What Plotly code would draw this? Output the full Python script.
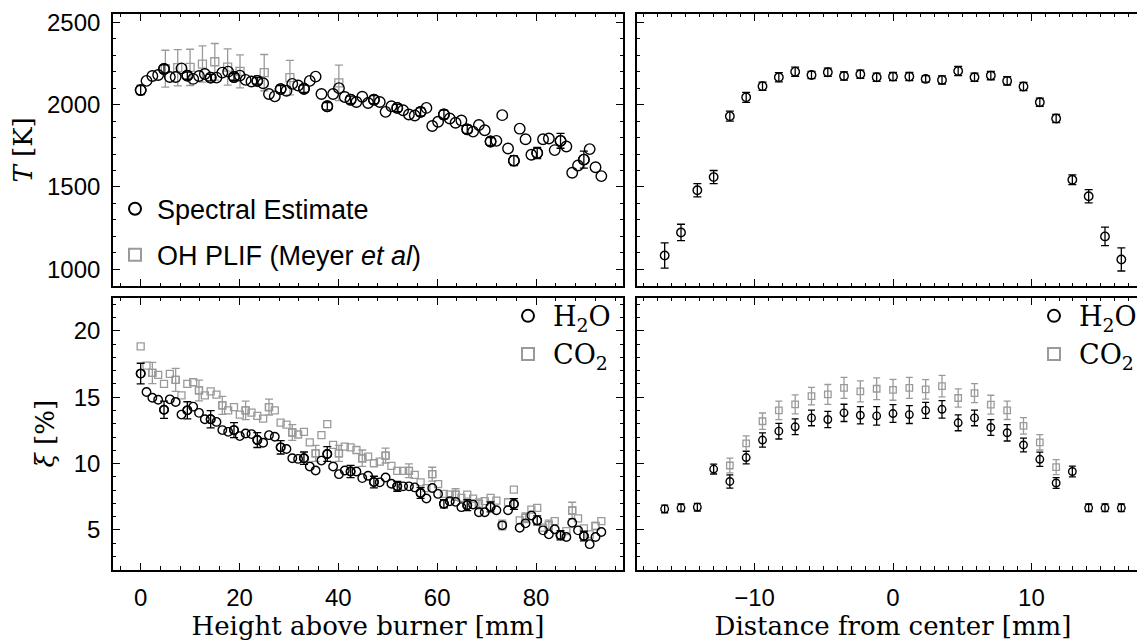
import plotly.graph_objects as go

# ---- data ----
hab_mm = [0.0, 1.18, 2.36, 3.54, 4.72, 5.9, 7.08, 8.26, 9.44, 10.62,
          11.8, 12.98, 14.16, 15.34, 16.52, 17.7, 18.88, 20.06, 21.24, 22.42,
          23.6, 24.78, 25.96, 27.14, 28.32, 29.5, 30.68, 31.86, 33.04, 34.22,
          35.4, 36.58, 37.76, 38.94, 40.12, 41.3, 42.48, 43.66, 44.84, 46.02,
          47.2, 48.38, 49.56, 50.74, 51.92, 53.1, 54.28, 55.46, 56.64, 57.82,
          59.0, 60.18, 61.36, 62.54, 63.72, 64.9, 66.08, 67.26, 68.44, 69.62,
          70.8, 71.98, 73.16, 74.34, 75.52, 76.7, 77.88, 79.06, 80.24, 81.42,
          82.6, 83.78, 84.96, 86.14, 87.32, 88.5, 89.68, 90.86, 92.04, 93.22]

temp_hab = [2088, 2144, 2174, 2180, 2216, 2168, 2168, 2220, 2176, 2156,
            2174, 2186, 2164, 2164, 2194, 2200, 2168, 2176, 2150, 2140,
            2144, 2130, 2064, 2050, 2094, 2084, 2126, 2116, 2096, 2144,
            2170, 2064, 1990, 2064, 2100, 2046, 2030, 2016, 2048, 2010,
            2030, 2016, 1956, 1990, 1980, 1966, 1940, 1934, 1956, 1980,
            1870, 1896, 1940, 1916, 1890, 1904, 1850, 1836, 1876, 1844,
            1776, 1780, 1936, 1734, 1660, 1854, 1790, 1696, 1706, 1790,
            1794, 1724, 1780, 1746, 1586, 1630, 1666, 1730, 1620, 1566]
# error bars only on every 4th spectral point (index 0, 4, 8, ...)
temp_hab_err = [28, 25, 22, 20, 20, 20, 22, 22, 22, 22,
                24, 22, 24, 26, 24, 24, 30, 34, 45, 52]

plif_mm = [5.0, 7.5, 10.0, 12.5, 15.0, 17.6, 20.1, 25.0, 30.2, 40.1]
plif_temp = [2218, 2224, 2226, 2246, 2260, 2228, 2202, 2194, 2164, 2132]
plif_err = [112, 110, 110, 110, 111, 110, 100, 110, 105, 108]

h2o_hab = [16.78, 15.39, 14.96, 14.81, 14.06, 14.84, 14.64, 13.69, 14.01, 14.29,
           13.82, 13.34, 13.34, 13.14, 12.52, 12.39, 12.52, 12.07, 12.27, 12.22,
           11.77, 11.57, 12.14, 12.02, 11.22, 11.10, 10.40, 10.35, 10.40, 9.78,
           9.48, 10.22, 10.72, 9.78, 9.20, 9.48, 9.40, 9.40, 8.90, 9.08,
           8.60, 8.58, 8.95, 8.48, 8.28, 8.28, 8.28, 8.20, 7.78, 7.36,
           8.15, 7.71, 6.96, 7.16, 7.11, 6.71, 6.86, 6.91, 6.33, 6.33,
           6.73, 6.48, 5.34, 6.48, 6.95, 5.16, 5.49, 6.08, 5.71, 4.96,
           4.66, 5.04, 4.59, 4.46, 5.54, 4.96, 4.54, 3.92, 4.46, 4.84]
h2o_hab_err = [0.78, 0.65, 0.65, 0.65, 0.56, 0.56, 0.5, 0.47, 0.56, 0.46,
               0.44, 0.37, 0.4, 0.31, 0.41, 0.37, 0.41, 0.34, 0.35, 0.37]

co2_hab = [18.83, 17.38, 16.83, 16.68, 16.01, 16.76, 16.31, 15.14, 16.01, 16.13,
           15.51, 15.14, 15.44, 15.19, 14.39, 14.01, 14.26, 13.69, 14.01, 13.84,
           13.59, 13.39, 14.26, 14.01, 13.09, 12.94, 12.34, 12.19, 12.39, 11.60,
           10.77, 12.14, 12.97, 11.40, 10.77, 11.27, 11.22, 11.02, 10.40, 10.52,
           10.02, 10.15, 10.60, 9.83, 9.45, 9.45, 9.45, 9.15, 8.58, 8.15,
           9.20, 8.45, 7.71, 7.66, 7.66, 7.41, 7.66, 7.36, 6.96, 7.16,
           7.41, 7.21, 5.36, 7.08, 8.03, 5.71, 5.91, 6.53, 6.66, 5.16,
           5.36, 5.66, 4.59, 4.91, 6.46, 5.86, 5.11, 4.66, 5.29, 5.66]
# every 4th CO2 point starting at index 2
co2_hab_err = [0.8, 0.87, 0.78, 0.68, 0.7, 0.6, 0.6, 0.6, 0.6, 0.62,
               0.56, 0.52, 0.52, 0.44, 0.37, 0.37, 0.37, 0.37, 0.62]

r_mm = [-16.5, -15.32, -14.14, -12.96, -11.79, -10.61, -9.43, -8.25, -7.07, -5.89,
        -4.71, -3.54, -2.36, -1.18, 0.0, 1.18, 2.36, 3.54, 4.71, 5.89,
        7.07, 8.25, 9.43, 10.61, 11.79, 12.96, 14.14, 15.32, 16.5]
temp_r = [1084, 1224, 1480, 1560, 1930, 2044, 2112, 2166, 2200, 2180,
          2196, 2174, 2184, 2166, 2170, 2170, 2156, 2150, 2204, 2166,
          2176, 2144, 2110, 2014, 1916, 1544, 1444, 1200, 1060]
temp_r_err = [77, 50, 40, 40, 30, 30, 25, 28, 28, 22,
              25, 25, 25, 25, 25, 25, 20, 25, 28, 25,
              25, 25, 25, 25, 25, 30, 40, 56, 70]

h2o_r = [6.58, 6.66, 6.71, 9.58, 8.65, 10.45, 11.77, 12.44, 12.77, 13.44,
         13.32, 13.82, 13.64, 13.59, 13.77, 13.69, 14.01, 14.09, 13.07, 13.44,
         12.72, 12.32, 11.40, 10.32, 8.53, 9.40, 6.66, 6.66, 6.66]
h2o_r_err = [0.29, 0.29, 0.29, 0.37, 0.5, 0.47, 0.54, 0.59, 0.59, 0.59,
             0.62, 0.65, 0.65, 0.7, 0.67, 0.67, 0.6, 0.66, 0.6, 0.59,
             0.59, 0.62, 0.52, 0.54, 0.4, 0.4, 0.29, 0.29, 0.29]
# CO2 only measured for the inner 21 radial positions (r_mm[4:25])
co2_r = [9.85, 11.52, 13.19, 14.01, 14.46, 15.09, 15.21, 15.71, 15.44, 15.64,
         15.56, 15.71, 15.59, 15.84, 14.94, 15.31, 14.44, 14.01, 12.84, 11.60, 9.73]
co2_r_err = [0.56, 0.57, 0.62, 0.7, 0.72, 0.66, 0.75, 0.79, 0.79, 0.82,
             0.79, 0.79, 0.74, 0.81, 0.69, 0.71, 0.71, 0.69, 0.62, 0.58, 0.56]

BLACK = "black"
GRAY = "#9a9a9a"
SANS = "Liberation Sans, Arial, sans-serif"
SERIF = "DejaVu Serif, serif"
W, H = 1145, 641
PAD = 8   # page body margin in front of the plot div


def circles(x, y, size, **kw):
    return go.Scatter(x=x, y=y, mode="markers",
                      marker=dict(symbol="circle-open", size=size, color=BLACK,
                                  line=dict(width=1.4, color=BLACK)), **kw)


def squares(x, y, size, **kw):
    return go.Scatter(x=x, y=y, mode="markers",
                      marker=dict(symbol="square-open", size=size, color=GRAY,
                                  line=dict(width=1.3, color=GRAY)), **kw)


def ebar(vals, color, width=4):
    return dict(type="data", array=vals, visible=True, color=color,
                thickness=1.3, width=width)


def px_x(a, b):   # page pixels -> paper fraction
    return [(a - PAD) / W, (b - PAD) / W]


def px_y(top, bottom):
    return [1 - (bottom - PAD) / H, 1 - (top - PAD) / H]


fig = go.Figure()

# top left: temperature vs height
fig.add_trace(squares(plif_mm, plif_temp, 8, error_y=ebar(plif_err, GRAY),
                      name="OH PLIF (Meyer <i>et al</i>)", legendgroup="b", legendrank=2,
                      xaxis="x", yaxis="y", legend="legend"))
fig.add_trace(circles(hab_mm, temp_hab, 10.5, name="Spectral Estimate",
                      legendgroup="a", legendrank=1, xaxis="x", yaxis="y", legend="legend"))
fig.add_trace(circles(hab_mm[::4], temp_hab[::4], 10.5,
                      error_y=ebar(temp_hab_err, BLACK), showlegend=False,
                      xaxis="x", yaxis="y"))

# top right: temperature vs radius
fig.add_trace(circles(r_mm, temp_r, 8.5, error_y=ebar(temp_r_err, BLACK),
                      showlegend=False, xaxis="x2", yaxis="y2"))

# bottom left: mole fractions vs height
fig.add_trace(squares(hab_mm, co2_hab, 7, name="CO<sub>2</sub>", legendgroup="d",
                      legendrank=2, xaxis="x3", yaxis="y3", legend="legend2"))
fig.add_trace(squares(hab_mm[2::4], co2_hab[2::4], 7,
                      error_y=ebar(co2_hab_err, GRAY), showlegend=False,
                      xaxis="x3", yaxis="y3"))
fig.add_trace(circles(hab_mm, h2o_hab, 8.5, name="H<sub>2</sub>O", legendgroup="c",
                      legendrank=1, xaxis="x3", yaxis="y3", legend="legend2"))
fig.add_trace(circles(hab_mm[::4], h2o_hab[::4], 8.5,
                      error_y=ebar(h2o_hab_err, BLACK), showlegend=False,
                      xaxis="x3", yaxis="y3"))

# bottom right: mole fractions vs radius
fig.add_trace(squares(r_mm[4:25], co2_r, 6.5, error_y=ebar(co2_r_err, GRAY, 3.5),
                      name="CO<sub>2</sub>", legendgroup="f", legendrank=2,
                      xaxis="x4", yaxis="y4", legend="legend3"))
fig.add_trace(circles(r_mm, h2o_r, 7.5, error_y=ebar(h2o_r_err, BLACK, 3.5),
                      name="H<sub>2</sub>O", legendgroup="e", legendrank=1,
                      xaxis="x4", yaxis="y4", legend="legend3"))

axis_common = dict(showline=True, linecolor=BLACK, linewidth=1.6, mirror="allticks",
                   ticks="inside", ticklen=7, tickwidth=1.2, tickcolor=BLACK,
                   showgrid=False, zeroline=False, ticklabeloverflow="allow",
                   tickfont=dict(family=SANS, size=24, color=BLACK),
                   minor=dict(ticks="inside", ticklen=3.5, tickwidth=1, tickcolor=BLACK))

LEFT = px_x(113, 623)
RIGHT = px_x(637, 1149)
TOP = px_y(9, 283)
BOT = px_y(295, 569)

title_font = dict(family=SERIF, size=26, color=BLACK)
leg_common = dict(xanchor="left", yanchor="top", bgcolor="rgba(0,0,0,0)",
                  itemsizing="constant", traceorder="grouped")

fig.update_layout(
    width=W, height=H, margin=dict(l=0, r=0, t=0, b=0),
    paper_bgcolor="white", plot_bgcolor="white",
    xaxis=dict(axis_common, domain=LEFT, anchor="y", range=[-5.6, 97.6],
               dtick=20, minor_dtick=4, showticklabels=False),
    yaxis=dict(axis_common, domain=TOP, anchor="x", range=[900, 2550],
               dtick=500, minor_dtick=100, ticklabelstandoff=6,
               title=dict(text="<i>T</i> [K]", font=title_font, standoff=12)),
    xaxis2=dict(axis_common, domain=RIGHT, anchor="y2", range=[-18.5, 18.5],
                dtick=10, minor_dtick=1, showticklabels=False),
    yaxis2=dict(axis_common, domain=TOP, anchor="x2", range=[900, 2550],
                dtick=500, minor_dtick=100, showticklabels=False),
    xaxis3=dict(axis_common, domain=LEFT, anchor="y3", range=[-5.6, 97.6],
                dtick=20, minor_dtick=4, ticklabelstandoff=6,
                title=dict(text="Height above burner [mm]", font=title_font, standoff=0)),
    yaxis3=dict(axis_common, domain=BOT, anchor="x3", range=[2.0, 22.5],
                dtick=5, minor_dtick=1, ticklabelstandoff=6,
                title=dict(text="<i>ξ</i> [%]", font=title_font, standoff=12)),
    xaxis4=dict(axis_common, domain=RIGHT, anchor="y4", range=[-18.5, 18.5],
                dtick=10, minor_dtick=1, ticklabelstandoff=6,
                title=dict(text="Distance from center [mm]", font=title_font, standoff=0)),
    yaxis4=dict(axis_common, domain=BOT, anchor="x4", range=[2.0, 22.5],
                dtick=5, minor_dtick=1, showticklabels=False),
    legend=dict(leg_common, x=(113 - PAD) / W, y=1 - (181 - PAD) / H, itemwidth=34,
                font=dict(family=SANS, size=27, color=BLACK), tracegroupgap=8),
    legend2=dict(leg_common, x=(503 - PAD) / W, y=1 - (289 - PAD) / H, itemwidth=40,
                 font=dict(family=SERIF, size=27, color=BLACK), tracegroupgap=0),
    legend3=dict(leg_common, x=(1029 - PAD) / W, y=1 - (289 - PAD) / H, itemwidth=40,
                 font=dict(family=SERIF, size=27, color=BLACK), tracegroupgap=0),
)

fig.write_html("out.html")
